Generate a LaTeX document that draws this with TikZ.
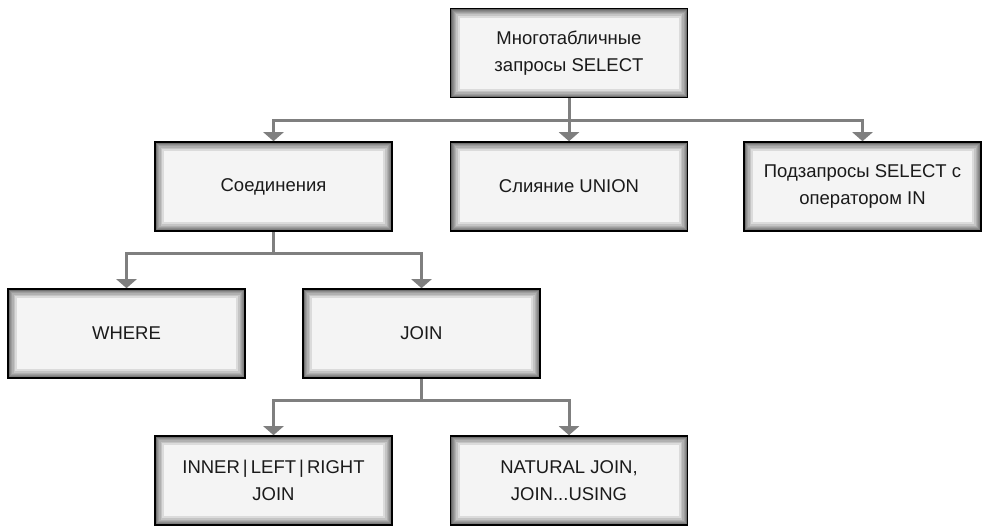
\documentclass[tikz,border=0pt]{standalone}
\usepackage{fontspec}
\setmainfont{Liberation Sans}
\usetikzlibrary{arrows.meta}
\definecolor{conncol}{HTML}{7F7F7F}
\definecolor{boxfill}{HTML}{F4F4F4}
\definecolor{txtcol}{HTML}{1A1A1A}
\tikzset{
  box/.style={draw=black, line width=1.6pt, fill=boxfill,
    minimum width=237pt, minimum height=89pt, inner sep=0pt,
    align=center, text=txtcol, font=\fontsize{18.5}{27}\selectfont,
    path picture={
      \foreach \w in {1,2,3,4,6,8,11,14,18}{
        \draw[line width=\w pt, black, opacity=0.1]
          (path picture bounding box.south west) rectangle (path picture bounding box.north east);
      }
    }},
  conn/.style={draw=conncol, line width=3pt,
    -{Triangle[width=20pt,length=9pt]}, shorten >=0pt}
}
\begin{document}
\begin{tikzpicture}[x=1pt,y=-1pt]
\useasboundingbox (0,0) rectangle (982,525);
\node[box] (top) at (569,53) {Многотабличные\\запросы SELECT};
\node[box] (soed) at (273.5,186.5) {Соединения};
\node[box] (union) at (569,186.5) {Слияние UNION};
\node[box] (podz) at (862.5,186.5) {Подзапросы SELECT с\\оператором IN};
\node[box] (where) at (126.5,333.5) {WHERE};
\node[box] (join) at (421.5,333.5) {JOIN};
\node[box] (inner) at (273.5,480.5) {INNER\,|\,LEFT\,|\,RIGHT\\JOIN};
\node[box] (natural) at (569,480.5) {NATURAL JOIN,\\JOIN...USING};
\coordinate (b1) at (0,120);
\coordinate (b2) at (0,253);
\coordinate (b3) at (0,400);
\draw[conn] (top.south) -- (top.south |- b1) -| (soed.north);
\draw[conn] (top.south) -- (union.north);
\draw[conn] (top.south) -- (top.south |- b1) -| (podz.north);
\draw[conn] (soed.south) -- (soed.south |- b2) -| (where.north);
\draw[conn] (soed.south) -- (soed.south |- b2) -| (join.north);
\draw[conn] (join.south) -- (join.south |- b3) -| (inner.north);
\draw[conn] (join.south) -- (join.south |- b3) -| (natural.north);
\end{tikzpicture}
\end{document}
